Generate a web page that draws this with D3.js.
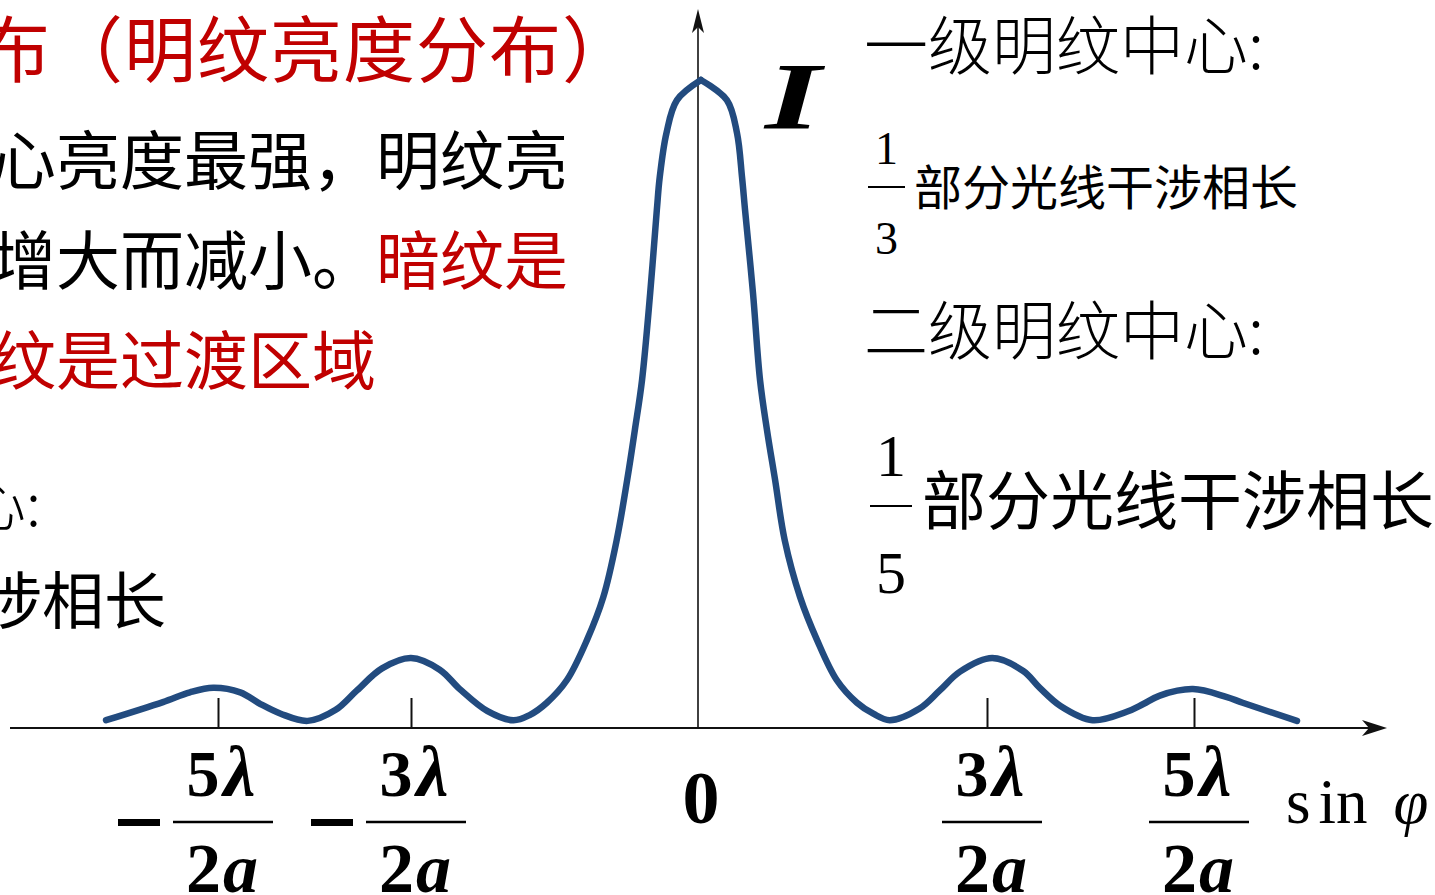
<!DOCTYPE html>
<html>
<head>
<meta charset="utf-8">
<script src="https://cdn.jsdelivr.net/npm/d3@7"></script>
<style>
  body { margin: 0; background: #fff; overflow: hidden; }
  .cjk { font-family: "Noto Sans CJK SC", sans-serif; }
  .tm { font-family: "Liberation Serif", "Times New Roman", serif; }
</style>
</head>
<body>
<div id="chart"></div>
<script>
var width = 1435;
var height = 895;

// curve: sin(phi) in units of lambda/(2a), relative intensity I
var sinPhi = [-6.16, -5.57, -5.29, -5.05, -4.77, -4.56, -4.35, -4.07, -3.78, -3.56, -3.3, -3.0, -2.7, -2.49, -2.2,
              -1.93, -1.76, -1.58, -1.37, -1.16, -0.99, -0.85, -0.74, -0.66, -0.585, -0.50, -0.43, -0.40, -0.33, -0.22,
              0.03,
              0.30, 0.405, 0.457, 0.488, 0.571, 0.644, 0.716, 0.80, 0.90, 1.06, 1.235, 1.44, 1.65, 1.82,
              1.99, 2.3, 2.51, 2.72, 3.05, 3.35, 3.51, 3.71, 4.02, 4.35, 4.51, 4.67, 4.99, 5.31, 5.47, 5.995];
var intensity = [0.012, 0.040, 0.055, 0.062, 0.055, 0.037, 0.022, 0.011, 0.028, 0.058, 0.092, 0.108, 0.090, 0.060, 0.026,
                 0.012, 0.020, 0.039, 0.074, 0.136, 0.202, 0.290, 0.383, 0.46, 0.537, 0.671, 0.80, 0.85, 0.918, 0.969,
                 1.0,
                 0.969, 0.918, 0.85, 0.80, 0.671, 0.537, 0.46, 0.383, 0.29, 0.202, 0.136, 0.074, 0.039, 0.022,
                 0.012, 0.030, 0.058, 0.087, 0.108, 0.088, 0.062, 0.034, 0.012, 0.025, 0.037, 0.050, 0.060, 0.048, 0.039, 0.011];

// tick positions (multiples of lambda/2a)
var tickValues = [-5, -3, 3, 5];
var tickDenom = "2";

// texts
var titleText = "布（明纹亮度分布）";
var leftLines = [
  [{t: "心亮度最强，明纹亮", c: "#000"}],
  [{t: "增大而减小。", c: "#000"}, {t: "暗纹是", c: "#c00000"}],
  [{t: "纹是过渡区域", c: "#c00000"}]
];
var leftLower = ["心:", "涉相长"];
var rightHeads = ["一级明纹中心:", "二级明纹中心:"];
var fracDen = ["3", "5"];
var fracText = "部分光线干涉相长";

var svg = d3.select("#chart").append("svg")
  .attr("width", width)
  .attr("height", height);

// scales (hand-drawn figure, so piecewise linear on x)
var xScale = d3.scaleLinear().domain([-5, -3, 0, 3, 5]).range([218, 411, 698, 987, 1194]);
var yScale = d3.scaleLinear().domain([0, 1]).range([728, 80]);

var axisColor = "#111";

// x axis with arrow
svg.append("line")
  .attr("x1", 10).attr("x2", 1380)
  .attr("y1", yScale(0)).attr("y2", yScale(0))
  .attr("stroke", axisColor).attr("stroke-width", 2);
svg.append("path")
  .attr("d", "M1387," + yScale(0) + " L1362," + (yScale(0) - 8) + " L1369," + yScale(0) + " L1362," + (yScale(0) + 8) + " Z")
  .attr("fill", axisColor);

// y axis with arrow
svg.append("line")
  .attr("x1", xScale(0)).attr("x2", xScale(0))
  .attr("y1", yScale(0)).attr("y2", 20)
  .attr("stroke", axisColor).attr("stroke-width", 1.6);
svg.append("path")
  .attr("d", "M" + xScale(0) + ",9 L" + (xScale(0) - 6) + ",33 L" + xScale(0) + ",27 L" + (xScale(0) + 6) + ",33 Z")
  .attr("fill", axisColor);

// ticks pointing up from the axis
var xAxis = d3.axisBottom(xScale).tickValues(tickValues).tickSize(-30).tickFormat("");
var xAxisGroup = svg.append("g")
  .attr("transform", "translate(0," + yScale(0) + ")")
  .call(xAxis);
xAxisGroup.select(".domain").remove();
xAxisGroup.selectAll(".tick line").attr("stroke", axisColor).attr("stroke-width", 2);

// intensity curve, drawn in two halves so the top keeps its point
var pts = sinPhi.map(function(d, i) { return [d, intensity[i]]; });
var peakIdx = intensity.indexOf(d3.max(intensity));
var line = d3.line()
  .x(function(d) { return xScale(d[0]); })
  .y(function(d) { return yScale(d[1]); })
  .curve(d3.curveCatmullRom.alpha(0.5));
[pts.slice(0, peakIdx + 1), pts.slice(peakIdx)].forEach(function(part) {
  svg.append("path")
    .attr("d", line(part))
    .attr("fill", "none")
    .attr("stroke", "#224b7f")
    .attr("stroke-width", 6.5)
    .attr("stroke-linecap", "round")
    .attr("stroke-linejoin", "round");
});

// tick labels as fractions
var labels = svg.selectAll(".frac")
  .data(tickValues)
  .enter()
  .append("g")
  .attr("class", "frac tm")
  .attr("transform", function(d) { return "translate(" + (xScale(d) + 5) + ",0)"; })
  .style("font-weight", "bold");

var num = labels.append("text")
  .attr("y", 796)
  .attr("text-anchor", "middle")
  .style("font-size", "66px")
  .style("letter-spacing", "4px");
num.append("tspan").text(function(d) { return Math.abs(d); });
num.append("tspan").style("font-style", "italic").style("font-size", "72px").text("λ");

labels.append("line")
  .attr("x1", -50).attr("x2", 50)
  .attr("y1", 822).attr("y2", 822)
  .attr("stroke", "#000").attr("stroke-width", 2.5);

var den = labels.append("text")
  .attr("y", 892)
  .attr("text-anchor", "middle")
  .style("font-size", "70px")
  .style("letter-spacing", "2px");
den.append("tspan").text(tickDenom);
den.append("tspan").style("font-style", "italic").text("a");

labels.filter(function(d) { return d < 0; })
  .append("line")
  .attr("x1", -105).attr("x2", -63)
  .attr("y1", 822.5).attr("y2", 822.5)
  .attr("stroke", "#000").attr("stroke-width", 7);

svg.append("text")
  .attr("class", "tm")
  .attr("x", xScale(0) + 3).attr("y", 823)
  .attr("text-anchor", "middle")
  .style("font-weight", "bold").style("font-size", "74px")
  .text("0");

var axisLabel = svg.append("text")
  .attr("class", "tm")
  .attr("x", 1286).attr("y", 823)
  .style("font-size", "63px");
axisLabel.append("tspan").text("s");
axisLabel.append("tspan").attr("dx", 8).text("in");
axisLabel.append("tspan").attr("dx", 26).style("font-style", "italic").text("φ");

// y label
svg.append("text")
  .attr("class", "tm")
  .attr("transform", "translate(765,129) scale(1.5,1)")
  .style("font-weight", "bold").style("font-style", "italic").style("font-size", "96px")
  .text("I");

// left explanatory text
svg.append("text")
  .attr("class", "cjk")
  .attr("x", -22).attr("y", 76)
  .attr("fill", "#c00000")
  .style("font-size", "72px")
  .style("letter-spacing", "1px")
  .text(titleText);

leftLines.forEach(function(parts, i) {
  var t = svg.append("text")
    .attr("class", "cjk")
    .attr("x", i < 2 ? 568 : 376)
    .attr("y", 184 + i * 100)
    .attr("text-anchor", "end")
    .style("font-size", "64px");
  parts.forEach(function(p) {
    t.append("tspan").attr("fill", p.c).text(p.t);
  });
});

svg.append("text")
  .attr("class", "cjk")
  .attr("x", -34).attr("y", 526)
  .style("font-size", "60px").style("font-weight", 300)
  .text(leftLower[0]);
svg.append("text")
  .attr("class", "cjk")
  .attr("x", 166).attr("y", 624)
  .attr("text-anchor", "end")
  .style("font-size", "62px")
  .text(leftLower[1]);

// right explanatory text
rightHeads.forEach(function(h, i) {
  svg.append("text")
    .attr("class", "cjk")
    .attr("x", 864).attr("y", [69, 354][i])
    .style("font-size", "64px").style("font-weight", 300)
    .text(h);
});

var fracs = [
  {y: 187, size: 46, x0: 868, x1: 905, textX: 914, textSize: 48, textY: 205},
  {y: 506, size: 60, x0: 870, x1: 912, textX: 922, textSize: 64, textY: 524}
];
fracs.forEach(function(f, i) {
  var cx = (f.x0 + f.x1) / 2;
  svg.append("text").attr("class", "tm")
    .attr("x", cx).attr("y", f.y - f.size * 0.5)
    .attr("text-anchor", "middle").style("font-size", f.size + "px")
    .text("1");
  svg.append("line")
    .attr("x1", f.x0).attr("x2", f.x1)
    .attr("y1", f.y).attr("y2", f.y)
    .attr("stroke", "#000").attr("stroke-width", 2);
  svg.append("text").attr("class", "tm")
    .attr("x", cx).attr("y", f.y + f.size * 1.45)
    .attr("text-anchor", "middle").style("font-size", f.size + "px")
    .text(fracDen[i]);
  svg.append("text").attr("class", "cjk")
    .attr("x", f.textX).attr("y", f.textY)
    .style("font-size", f.textSize + "px")
    .text(fracText);
});
</script>
</body>
</html>
